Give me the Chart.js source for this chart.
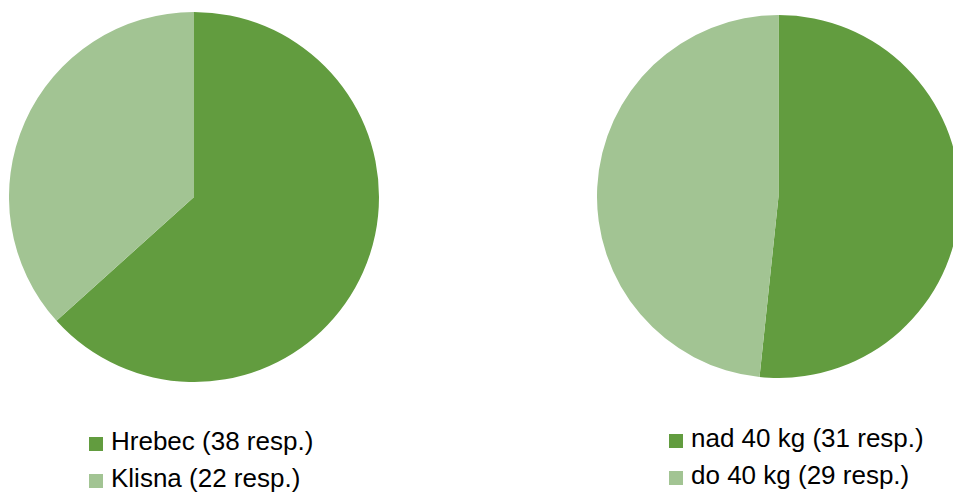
<!DOCTYPE html>
<html>
<head>
<meta charset="utf-8">
<script src="https://cdn.jsdelivr.net/npm/chart.js@4"></script>
<style>
  html, body { margin: 0; padding: 0; background: #fff; overflow: hidden; }
  body { width: 953px; height: 494px; position: relative; }
  canvas { position: absolute; }
  .legend { position: absolute; font-family: "Liberation Sans", Arial, sans-serif; font-size: 26px; color: #000; }
  .legend div { position: relative; height: 37px; line-height: 37px; white-space: nowrap; padding-left: 22px; }
  .legend span.box { position: absolute; left: 0; top: 13.5px; width: 14px; height: 14px; }
</style>
</head>
<body>
<canvas id="sex" width="370" height="370" style="left:9px;top:12px"></canvas>
<canvas id="weight" width="363" height="363" style="left:597px;top:15px"></canvas>
<div class="legend" id="sexLegend" style="left:89px;top:423px"></div>
<div class="legend" id="weightLegend" style="left:669px;top:420px"></div>
<script>
const sexLabels = ["Hrebec (38 resp.)", "Klisna (22 resp.)"];
const sexValues = [38, 22];
const weightLabels = ["nad 40 kg (31 resp.)", "do 40 kg (29 resp.)"];
const weightValues = [31, 29];
const COLORS = ["#629c3f", "#a2c493"];

const pie = (id, labels, values) =>
  new Chart(document.getElementById(id), {
    type: "pie",
    data: {
      labels,
      datasets: [{ data: values, backgroundColor: COLORS, borderWidth: 0 }],
    },
    options: {
      responsive: false,
      animation: false,
      layout: { padding: 0 },
      plugins: { legend: { display: false }, tooltip: { enabled: false } },
    },
  });

// legend rows built from the chart's own labels and colours
const legend = (id, chart) => {
  const el = document.getElementById(id);
  chart.data.labels.forEach((label, i) => {
    const row = document.createElement("div");
    const box = document.createElement("span");
    box.className = "box";
    box.style.background = chart.data.datasets[0].backgroundColor[i];
    row.appendChild(box);
    row.appendChild(document.createTextNode(label));
    el.appendChild(row);
  });
};

legend("sexLegend", pie("sex", sexLabels, sexValues));
legend("weightLegend", pie("weight", weightLabels, weightValues));
</script>
</body>
</html>
